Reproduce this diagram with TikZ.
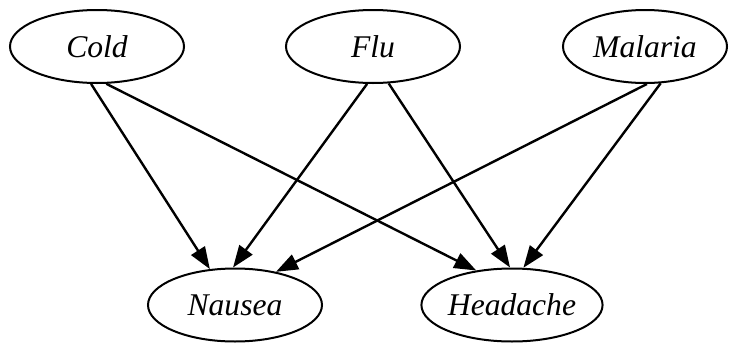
\documentclass[tikz,border=0pt]{standalone}
\usepackage{fontspec}
\setmainfont{Liberation Serif}
\usetikzlibrary{shapes.geometric,arrows.meta}

\begin{document}
\begin{tikzpicture}[x=0.5pt,y=-0.5pt,line width=1pt,
    font=\fontsize{15.8}{18}\selectfont\itshape,
    var/.style={ellipse, draw, inner sep=0pt, minimum width=87pt, minimum height=36.5pt},
    dep/.style={line width=1.2pt, -{Triangle[length=11pt,width=8pt]}}]
            \useasboundingbox (0,0) rectangle (729,343);

            % causes
            \node [var] (cold) at (97,46.5) {Cold};
            \node [var] (flu) at (373,46.5) {Flu};
            \node [var, minimum width=82pt] (malaria) at (645,46.5) {Malaria};

            % symptoms
            \node [var] (nausea) at (235,305) {Nausea};
            \node [var, minimum width=86pt] (headache) at (512,305) {Headache};

            \draw[dep] (cold.-99) -- (nausea.125);
            \draw[dep] (cold.-76) -- (headache.136);

            \draw[dep] (flu.-99) -- (nausea.93);
            \draw[dep] (flu.-67) -- (headache.93);

            \draw[dep] (malaria.-87) -- (nausea.39);
            \draw[dep] (malaria.-67) -- (headache.73);

        \end{tikzpicture}
\end{document}
